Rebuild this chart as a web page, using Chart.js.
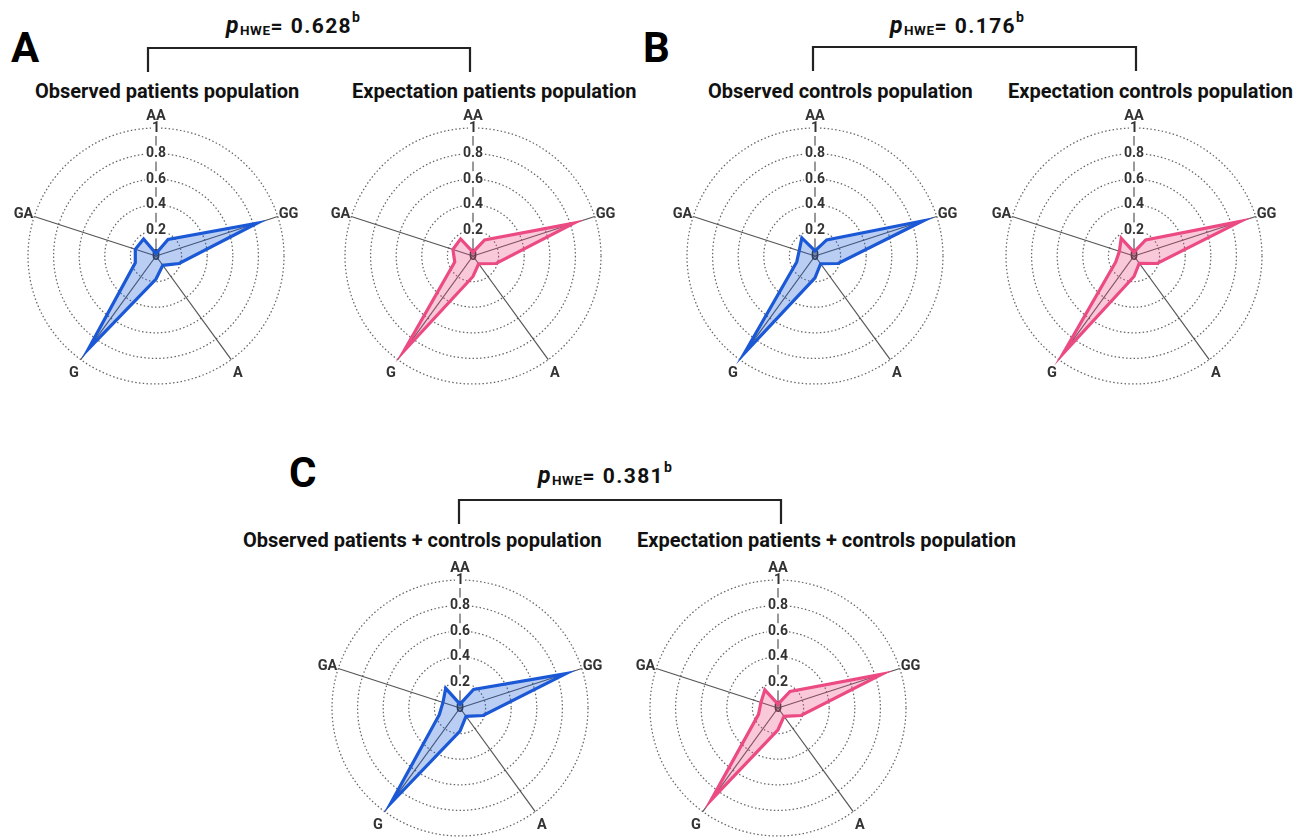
<!DOCTYPE html>
<html>
<head>
<meta charset="utf-8">
<script src="https://cdn.jsdelivr.net/npm/chart.js@4.4.1/dist/chart.umd.min.js"></script>
<style>
  html, body { margin: 0; padding: 0; background: #fff; width: 1304px; height: 838px; overflow: hidden; }
  #wrap { position: relative; width: 1304px; height: 838px; }
  canvas { position: absolute; }
  svg { position: absolute; left: 0; top: 0; }
</style>
</head>
<body>
<div id="wrap">
<svg id="txt" width="1304" height="838" xmlns="http://www.w3.org/2000/svg"></svg>
</div>
<script>
// ---------------- DATA ----------------
// 10 spokes: labelled genotype / allele axes with unlabelled spokes in between
const axisLabels = ['AA', '', 'GG', '', 'A', '', 'G', '', 'GA', ''];
const tickLabels = ['0', '0.2', '0.4', '0.6', '0.8', '1'];

const obsPatients      = [0.02, 0.16, 0.83, 0.19, 0.09, 0.18, 0.90, 0.17, 0.17, 0.165];
const expPatients      = [0.03, 0.155, 0.83, 0.19, 0.075, 0.16, 0.92, 0.15, 0.165, 0.165];
const obsControls      = [0.04, 0.155, 0.89, 0.19, 0.075, 0.17, 0.94, 0.15, 0.13, 0.175];
const expControls      = [0.03, 0.155, 0.875, 0.19, 0.07, 0.16, 0.945, 0.15, 0.12, 0.17];
const obsCombined      = [0.03, 0.18, 0.87, 0.19, 0.08, 0.18, 0.92, 0.17, 0.14, 0.19];
const expCombined      = [0.03, 0.16, 0.855, 0.19, 0.08, 0.17, 0.89, 0.16, 0.14, 0.175];

const chartTitles = [
  'Observed patients population', 'Expectation patients population',
  'Observed controls population', 'Expectation controls population',
  'Observed patients + controls population', 'Expectation patients + controls population'
];
const panelLetters = ['A', 'B', 'C'];
const pValues = ['0.628', '0.176', '0.381'];

// ---------------- STYLE / LAYOUT ----------------
const BLUE = '#1b58d6', BLUE_FILL = 'rgba(27,88,214,0.30)';
const PINK = '#ec4a82', PINK_FILL = 'rgba(236,74,130,0.30)';
const FONT = 'Roboto';

const panels = [
  { data: obsPatients, color: BLUE, fill: BLUE_FILL, cx: 156, cy: 256, title: 0, tx: 35,   ty: 98 },
  { data: expPatients, color: PINK, fill: PINK_FILL, cx: 473, cy: 256, title: 1, tx: 352,  ty: 98 },
  { data: obsControls, color: BLUE, fill: BLUE_FILL, cx: 815, cy: 256, title: 2, tx: 708,  ty: 98 },
  { data: expControls, color: PINK, fill: PINK_FILL, cx: 1134, cy: 256, title: 3, tx: 1008, ty: 98 },
  { data: obsCombined, color: BLUE, fill: BLUE_FILL, cx: 460, cy: 708, title: 4, tx: 243,  ty: 547 },
  { data: expCombined, color: PINK, fill: PINK_FILL, cx: 778, cy: 708, title: 5, tx: 637,  ty: 547 }
];

const groups = [
  { letter: 0, lx: 11,  ly: 62,  p: 0, px: 226, py: 33,  bx1: 148, bx2: 470,  by1: 48,  by2: 72 },
  { letter: 1, lx: 643, ly: 62,  p: 1, px: 890, py: 33,  bx1: 813, bx2: 1136, by1: 47,  by2: 71 },
  { letter: 2, lx: 289, ly: 487, p: 2, px: 538, py: 483, bx1: 459, bx2: 781,  by1: 500, by2: 524 }
];

// point label placement: extra distance beyond outer ring, alignment, baseline shift
const labelPlace = {
  0: { d: 8, align: 'center', dy: 0 },
  2: { d: 1, align: 'left',   dy: 2 },
  4: { d: 3, align: 'left',   dy: 15 },
  6: { d: 3, align: 'right',  dy: 15 },
  8: { d: 1, align: 'right',  dy: 2 }
};

// ---------------- TEXT / BRACKETS (SVG) ----------------
const NS = 'http://www.w3.org/2000/svg';
const svg = document.getElementById('txt');
function el(name, attrs, parent) {
  const e = document.createElementNS(NS, name);
  for (const k in attrs) e.setAttribute(k, attrs[k]);
  (parent || svg).appendChild(e);
  return e;
}
function ts(parent, text, attrs) {
  const t = el('tspan', attrs || {}, parent);
  t.textContent = text;
  return t;
}
panels.forEach(p => {
  const t = el('text', { x: p.tx, y: p.ty, 'font-family': FONT, 'font-weight': 700, 'font-size': 20, fill: '#111' });
  t.textContent = chartTitles[p.title];
});
groups.forEach(g => {
  const L = el('text', { x: g.lx, y: g.ly, 'font-family': FONT, 'font-weight': 700, 'font-size': 42, fill: '#000' });
  L.textContent = panelLetters[g.letter];
  const t = el('text', { x: g.px, y: g.py, 'font-family': FONT, 'font-weight': 700, 'font-size': 21, fill: '#111' });
  ts(t, 'p', { 'font-style': 'italic', 'font-size': 23, 'letter-spacing': 1.5 });
  ts(t, 'HWE', { 'font-size': 13.5, dy: 2, 'letter-spacing': 0.5 });
  ts(t, '= ', { dy: -2, 'letter-spacing': 1.5 });
  ts(t, pValues[g.p], { 'letter-spacing': 1.4 });
  ts(t, 'b', { 'font-size': 14, dy: -11 });
  el('path', { d: `M${g.bx1},${g.by2} L${g.bx1},${g.by1} L${g.bx2},${g.by1} L${g.bx2},${g.by2}`,
               fill: 'none', stroke: '#222', 'stroke-width': 2.2 });
});

// ---------------- CHARTS ----------------
const axisLabelPlugin = {
  id: 'axisLabelPlugin',
  beforeDatasetsDraw(chart) {
    const s = chart.scales.r, ctx = chart.ctx;
    ctx.save();
    ctx.font = `bold 14px ${FONT}`;
    ctx.fillStyle = '#333';
    ctx.textAlign = 'center';
    ctx.textBaseline = 'middle';
    const c = s.getPointPositionForValue(0, 0);
    ctx.fillText(tickLabels[0], c.x, c.y);
    ctx.restore();
  },
  afterDraw(chart) {
    const s = chart.scales.r, ctx = chart.ctx;
    ctx.save();
    ctx.font = `bold 14.5px ${FONT}`;
    ctx.fillStyle = '#333';
    ctx.textBaseline = 'alphabetic';
    chart.data.labels.forEach((lab, i) => {
      if (!lab) return;
      const pl = labelPlace[i];
      const pos = s.getPointPosition(i, s.drawingArea + pl.d);
      ctx.textAlign = pl.align;
      ctx.fillText(lab, pos.x, pos.y + pl.dy);
    });
    ctx.restore();
  }
};

const SIZE = 300;
panels.forEach(p => {
  const cv = document.createElement('canvas');
  cv.width = SIZE; cv.height = SIZE;
  cv.style.width = SIZE + 'px'; cv.style.height = SIZE + 'px';
  cv.style.left = (p.cx - SIZE / 2) + 'px';
  cv.style.top = (p.cy - SIZE / 2) + 'px';
  document.getElementById('wrap').appendChild(cv);
  new Chart(cv, {
    type: 'radar',
    data: {
      labels: axisLabels,
      datasets: [{
        data: p.data,
        borderColor: p.color,
        backgroundColor: p.fill,
        borderWidth: 3.2,
        fill: true,
        pointRadius: 0,
        pointHoverRadius: 0,
        tension: 0,
        borderJoinStyle: 'miter'
      }]
    },
    options: {
      responsive: false,
      animation: false,
      devicePixelRatio: 1,
      layout: { padding: 14 },
      plugins: { legend: { display: false }, tooltip: { enabled: false } },
      scales: {
        r: {
          min: 0, max: 1,
          ticks: {
            stepSize: 0.2,
            font: { family: FONT, size: 14, weight: 'bold' },
            color: '#333',
            showLabelBackdrop: true,
            backdropColor: '#ffffff',
            backdropPadding: { x: 1, y: 1 },
            callback: (v, i) => tickLabels[i]
          },
          grid: { circular: true, color: '#666', lineWidth: 1.25 },
          border: { dash: [1.5, 2.3] },
          angleLines: {
            display: true,
            color: ctx => (ctx.index % 2 === 0 ? '#555' : 'rgba(0,0,0,0)'),
            lineWidth: ctx => (ctx.index % 2 === 0 ? 1.2 : 0)
          },
          pointLabels: { display: false }
        }
      }
    },
    plugins: [axisLabelPlugin]
  });
});
</script>
</body>
</html>
